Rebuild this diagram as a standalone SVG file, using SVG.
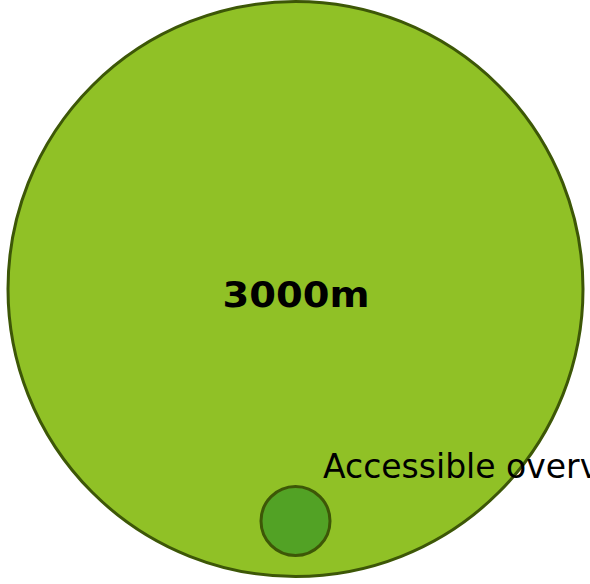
<svg xmlns="http://www.w3.org/2000/svg" width="590" height="584" viewBox="0 0 590 584">
<style>
.c{stroke:#3d5707;stroke-width:3}
.t{font-family:"DejaVu Sans",sans-serif;fill:#000}
</style>
<rect width="590" height="584" fill="#fff"/>
<g id="outer">
<circle class="c" cx="295.5" cy="289" r="287.5" fill="#90c126"/>
<text class="t" x="296" y="307" font-size="36" font-weight="bold" text-anchor="middle" textLength="147" lengthAdjust="spacingAndGlyphs">3000m</text>
</g>
<g id="inner">
<circle class="c" cx="295.5" cy="521" r="34.5" fill="#52a225"/>
<text class="t" x="323" y="478" font-size="33">Accessible overv</text>
</g>
<g id="connectors"/>
</svg>
